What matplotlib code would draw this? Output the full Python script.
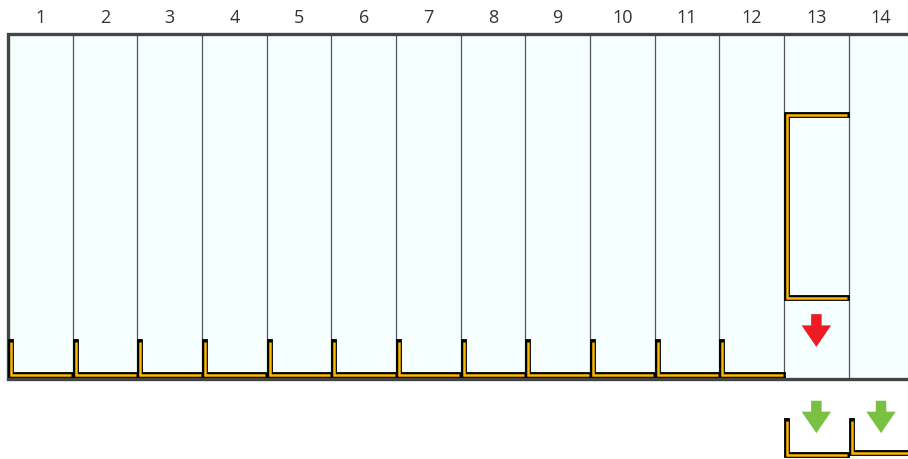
import matplotlib
matplotlib.use("Agg")
import matplotlib.pyplot as plt

# ---- data ----
columns = list(range(1, 15))
col_labels = [str(c) for c in columns]
# brackets inside the track: (column, lower level, upper level, closed top?)
inside_cols = list(range(1, 13)) + [13]
inside_low = [0.13] * 12 + [2.36]
inside_high = [1.07] * 12 + [7.64]
inside_top = [False] * 12 + [True]
# brackets below the track
below_cols = [13, 14]
below_low = [-2.20, -2.14]
below_high = [-1.23, -1.21]
# arrows: (column, start level, end level)
red_arrow_cols = [13]
red_arrow_start = [1.88]
red_arrow_end = [0.93]
green_arrow_cols = [13, 14]
green_arrow_start = [-0.63, -0.63]
green_arrow_end = [-1.57, -1.57]

TRACK_TOP = 10.0
BG = "#F5FFFF"
YELLOW = "#FFB800"
RED = "#ED1C24"
GREEN = "#7AC143"

fig = plt.figure(figsize=(9.08, 4.6), dpi=100)
ax = fig.add_axes([0, 0, 1, 1])
ax.set_xlim(-8 / 64.67, 900 / 64.67)
ax.set_ylim(-80 / 34.5, 380 / 34.5)
ax.axis("off")

n = len(columns)
# background
ax.add_patch(plt.Rectangle((0, 0), n, TRACK_TOP, facecolor=BG, edgecolor="none", zorder=0))
# column separators
for c in columns[1:]:
    ax.plot([c - 1, c - 1], [0, TRACK_TOP], color="#555555", lw=0.9, zorder=1)
# outer border
ax.plot([n + 1, 0, 0, n + 1], [TRACK_TOP, TRACK_TOP, 0, 0], color="#444444", lw=2.4,
        solid_joinstyle="miter", zorder=2)

off = 3 / 64.67


def bracket(col, low, high, closed):
    x0 = col - 1 + off
    x1 = col - 0.02
    if closed:
        xs = [x1, x0, x0, x1]
        ys = [high, high, low, low]
    else:
        xs = [x0, x0, x1]
        ys = [high, low, low]
    ax.plot(xs, ys, color="black", lw=4.2, solid_joinstyle="miter",
            solid_capstyle="projecting", zorder=3)
    ax.plot(xs, ys, color=YELLOW, lw=1.8, solid_joinstyle="miter",
            solid_capstyle="butt", zorder=4)


for c, lo, hi, cl in zip(inside_cols, inside_low, inside_high, inside_top):
    bracket(c, lo, hi, cl)
for c, lo, hi in zip(below_cols, below_low, below_high):
    bracket(c, lo, hi, False)


def arrow(col, y0, y1, color):
    ax.arrow(col - 0.5, y0, 0, y1 - y0, width=10.5 / 64.67, head_width=29.5 / 64.67,
             head_length=21.5 / 34.5, length_includes_head=True, color=color,
             lw=0, zorder=5)


for c, s, e in zip(red_arrow_cols, red_arrow_start, red_arrow_end):
    arrow(c, s, e, RED)
for c, s, e in zip(green_arrow_cols, green_arrow_start, green_arrow_end):
    arrow(c, s, e, GREEN)

for c, lab in zip(columns, col_labels):
    ax.text(c - 0.5, (380 - 18) / 34.5, lab, ha="center", va="center",
            fontsize=13, color="#333333", family=["Open Sans", "DejaVu Sans"])

fig.savefig("out.png", dpi=100)
